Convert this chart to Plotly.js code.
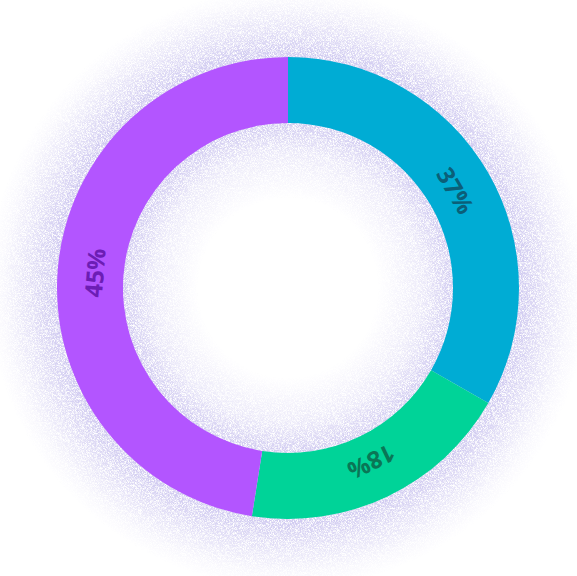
<!DOCTYPE html>
<html>
<head>
<meta charset="utf-8">
<script src="https://cdn.plot.ly/plotly-3.0.1.min.js"></script>
<style>
  html, body { margin: 0; padding: 0; background: #ffffff; }
  #wrap { position: relative; width: 577px; height: 576px; overflow: hidden; }
  #glow { position: absolute; left: 0; top: 0; }
  #chart { position: absolute; left: 0; top: 0; width: 577px; height: 576px; }
</style>
</head>
<body>
<div id="wrap">
  <svg id="glow" width="577" height="576" xmlns="http://www.w3.org/2000/svg">
    <defs>
      <radialGradient id="halo" gradientUnits="userSpaceOnUse" cx="288" cy="288" r="300">
        <stop offset="0" stop-color="#fff" stop-opacity="0"/>
        <stop offset="0.30" stop-color="#fff" stop-opacity="0"/>
        <stop offset="0.45" stop-color="#fff" stop-opacity="0.4"/>
        <stop offset="0.55" stop-color="#fff" stop-opacity="0.95"/>
        <stop offset="0.78" stop-color="#fff" stop-opacity="0.95"/>
        <stop offset="0.86" stop-color="#fff" stop-opacity="0.55"/>
        <stop offset="0.95" stop-color="#fff" stop-opacity="0.14"/>
        <stop offset="1" stop-color="#fff" stop-opacity="0"/>
      </radialGradient>
      <filter id="grain" x="0" y="0" width="100%" height="100%" filterUnits="userSpaceOnUse">
        <feTurbulence type="fractalNoise" baseFrequency="1.6" numOctaves="1" seed="7" result="noise"/>
        <feColorMatrix in="noise" type="matrix"
          values="0 0 0 0 0.62
                  0 0 0 0 0.58
                  0 0 0 0 0.87
                  0 0 0 3.2 -0.95" result="dots"/>
        <feComposite in="dots" in2="SourceGraphic" operator="arithmetic" k1="1" k2="0" k3="0" k4="0"/>
      </filter>
    </defs>
    <rect x="0" y="0" width="577" height="576" fill="url(#halo)" filter="url(#grain)"/>
  </svg>
  <div id="chart"></div>
</div>
<script>
// Slice data
const categories = ['A', 'B', 'C'];
const sliceValues = [33.3, 19.2, 47.5];
const sliceLabels = ['37%', '18%', '45%'];
const sliceColors = ['#00ACD4', '#00D398', '#B355FF'];
const labelColors = ['#0B5F78', '#0A7656', '#6C1DB5'];

const W = 577, H = 576;
const cx = 288, cy = 288, R = 231, labelR = 194;

const total = sliceValues.reduce((a, b) => a + b, 0);
let cum = 0;
const annotations = sliceValues.map((v, i) => {
  const mid = (cum + v / 2) / total * 360;
  cum += v;
  const rad = mid * Math.PI / 180;
  const px = cx + labelR * Math.sin(rad);
  const py = cy - labelR * Math.cos(rad);
  let ang = mid > 180 ? mid - 360 : mid;
  return {
    x: px / W, y: 1 - py / H, xref: 'paper', yref: 'paper',
    xanchor: 'center', yanchor: 'middle',
    text: sliceLabels[i], showarrow: false, textangle: ang,
    font: { family: '"Open Sans", sans-serif', size: 24, color: labelColors[i], weight: 'bold' }
  };
});

const data = [{
  type: 'pie',
  labels: categories,
  values: sliceValues,
  sort: false,
  direction: 'clockwise',
  rotation: 0,
  hole: 165 / 231,
  textinfo: 'none',
  hoverinfo: 'skip',
  marker: { colors: sliceColors, line: { width: 0 } },
  domain: { x: [(cx - R) / W, (cx + R) / W], y: [(H - cy - R) / H, (H - cy + R) / H] }
}];

const layout = {
  width: W, height: H,
  margin: { l: 0, r: 0, t: 0, b: 0 },
  paper_bgcolor: 'rgba(0,0,0,0)',
  plot_bgcolor: 'rgba(0,0,0,0)',
  showlegend: false,
  annotations: annotations
};

Plotly.newPlot('chart', data, layout, { staticPlot: true, displayModeBar: false });
</script>
</body>
</html>
